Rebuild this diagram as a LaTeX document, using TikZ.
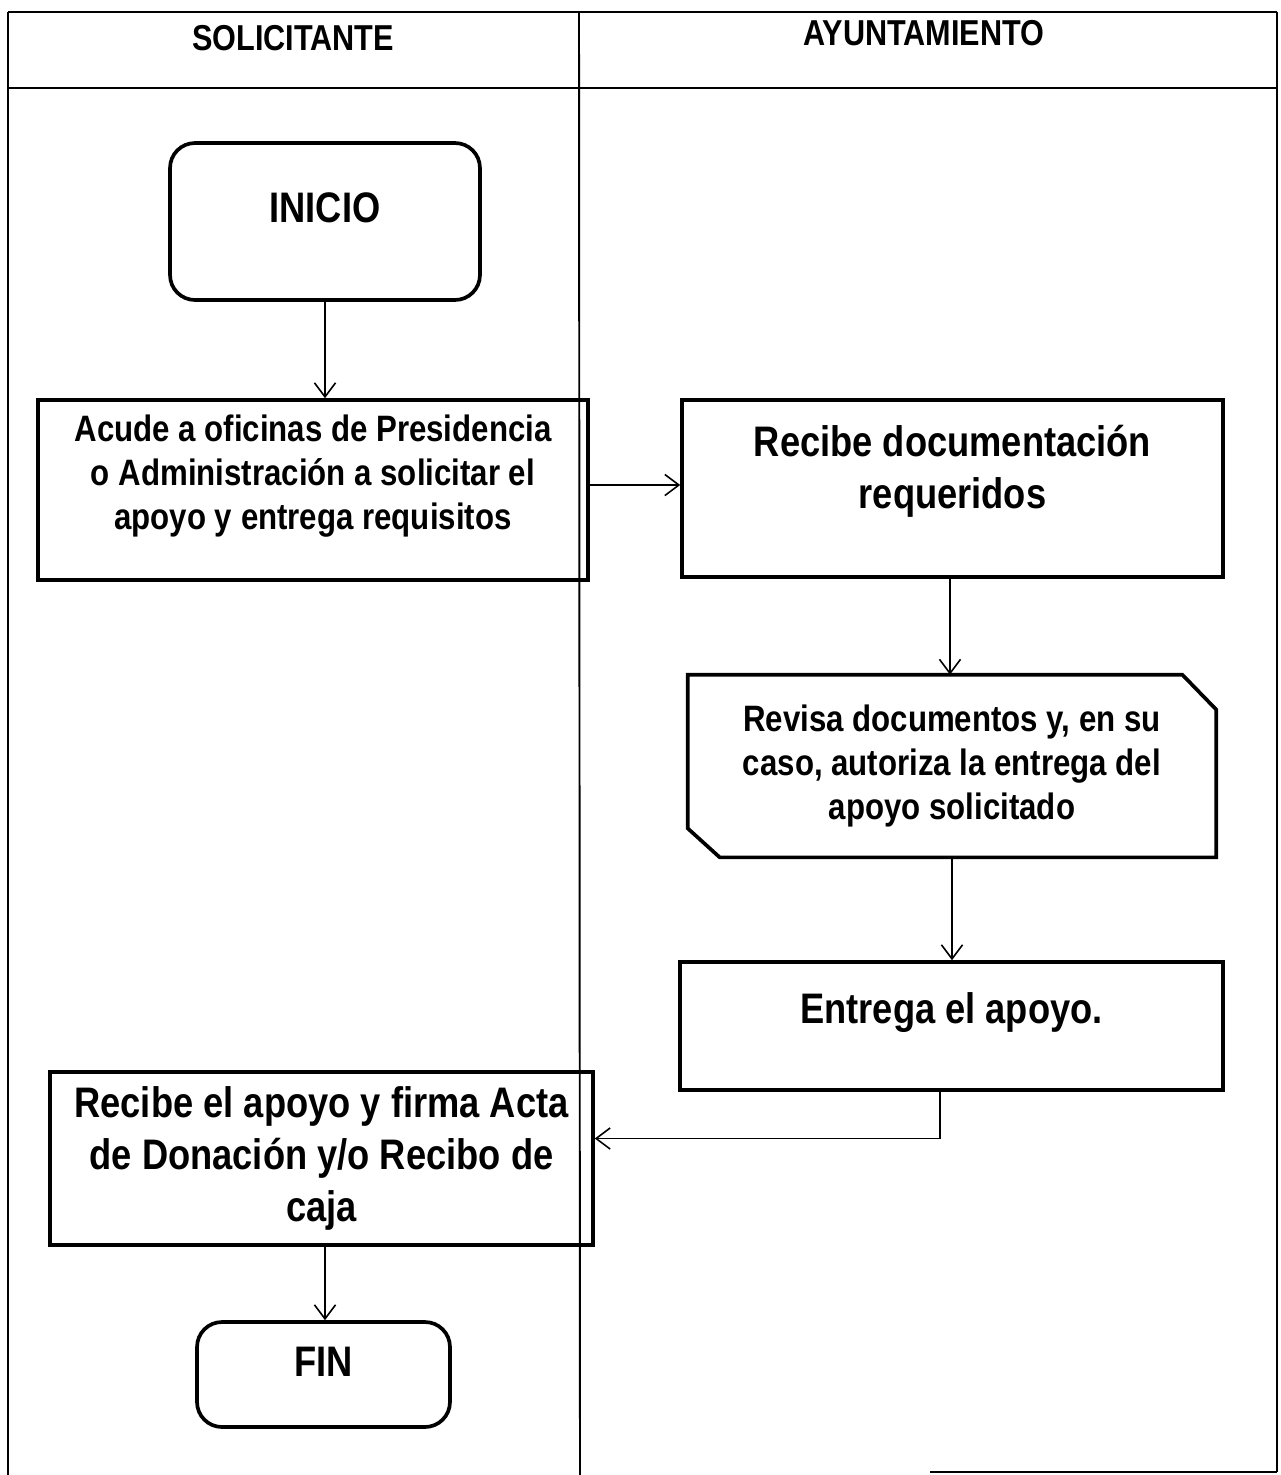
\documentclass[tikz,border=0pt]{standalone}
\usepackage{fontspec}
\setmainfont{Liberation Sans}[FakeStretch=0.85]
\usetikzlibrary{arrows.meta}
\begin{document}
\begin{tikzpicture}[x=0.02cm,y=-0.02cm,
  frame/.style={line width=1.1pt},
  box/.style={draw, line width=2.1pt, inner sep=0pt},
  term/.style={box, rounded corners=0.5cm},
  txt/.style={align=center, font=\bfseries},
  small/.style={font=\fontsize{20.9}{25}\selectfont\bfseries},
  big/.style={font=\fontsize{24.3}{29.4}\selectfont\bfseries},
  head/.style={font=\fontsize{20.5}{24}\selectfont\bfseries},
  flow/.style={line width=0.9pt, -{Straight Barb[length=8pt,width=12pt]}}]
\useasboundingbox (0,0) rectangle (1281,1475);
% lanes
\draw[frame] (8,12) -- (1277,12);
\draw[frame] (8,88) -- (1277,88);
\draw[frame] (8,12) -- (8,1475);
\draw[frame] (1277,12) -- (1277,1472);
\draw[frame] (579,12) -- (580,1475);
\draw[frame] (930,1472) -- (1277,1472);
\node[head] (h1) at (293,38) {SOLICITANTE};
\node[head] (h2) at (924,33) {AYUNTAMIENTO};
% nodes
\node[term, minimum width=6.2cm, minimum height=3.14cm,
  label={[big, yshift=0.27cm, name=t1]center:INICIO}] (inicio) at (325,221.5) {};
\node[box, minimum width=11cm, minimum height=3.6cm,
  label={[small, align=center, yshift=0.28cm, name=t2]center:Acude a oficinas de Presidencia\\o Administración a solicitar el\\apoyo y entrega requisitos}] (acude) at (313,490) {};
\node[box, minimum width=10.82cm, minimum height=3.54cm,
  label={[big, align=center, yshift=0.35cm, name=t3]center:Recibe documentación\\requeridos}] (recdoc) at (952.5,488.5) {};
\node[minimum width=10.56cm, minimum height=3.64cm, inner sep=0pt, small, align=center] (revisa) at (952,766)
  {Revisa documentos y, en su\\caso, autoriza la entrega del\\apoyo solicitado};
\draw[line width=2.1pt] (revisa.north west) -- ([xshift=-0.68cm]revisa.north east)
  -- ([yshift=-0.7cm]revisa.north east) -- (revisa.south east)
  -- ([xshift=0.64cm]revisa.south west) -- ([yshift=0.58cm]revisa.south west) -- cycle;
\node[box, minimum width=10.86cm, minimum height=2.56cm,
  label={[big, yshift=0.26cm, name=t5]center:Entrega el apoyo.}] (entrega) at (951.5,1026) {};
\node[box, minimum width=10.86cm, minimum height=3.46cm, big, align=center] (recibe) at (321.5,1158.5)
  {Recibe el apoyo y firma Acta\\de Donación y/o Recibo de\\caja};
\node[term, minimum width=5.06cm, minimum height=2.1cm,
  label={[big, yshift=0.25cm, name=t7]center:FIN}] (fin) at (323.5,1374.5) {};
% connectors
\draw[flow] (inicio.south) -- (inicio.south |- acude.north);
\draw[flow] ([yshift=0.1cm]acude.east) -- ([yshift=0.1cm]acude.east -| recdoc.west);
\draw[flow] ([xshift=-0.05cm]recdoc.south) -- ([xshift=-0.05cm]recdoc.south |- revisa.north);
\draw[flow] (revisa.south) -- (revisa.south |- entrega.north);
\draw[flow] ([xshift=-0.23cm]entrega.south) |- ([yshift=0.4cm]recibe.east);
\draw[flow] ([xshift=0.07cm]recibe.south) -- ([xshift=0.07cm]recibe.south |- fin.north);
\end{tikzpicture}
\end{document}
